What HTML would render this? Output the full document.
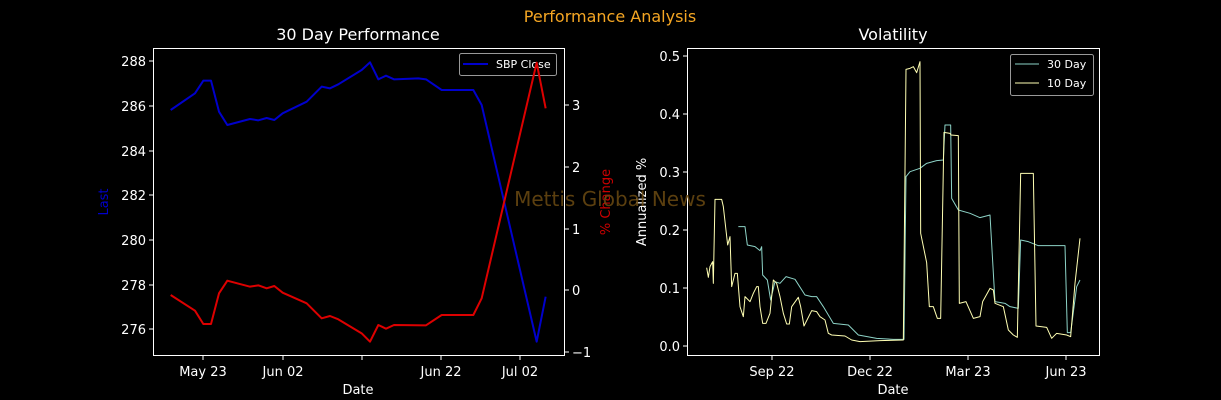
<!DOCTYPE html>
<html><head><meta charset="utf-8"><style>
body{margin:0;background:#000;}
svg{display:block;font-family:"DejaVu Sans","Liberation Sans",sans-serif;}
</style></head><body>
<svg width="1221" height="400" viewBox="0 0 1221 400" xmlns="http://www.w3.org/2000/svg">
<rect width="1221" height="400" fill="#000"/>
<text x="610" y="22" fill="#f5a623" font-size="16" text-anchor="middle">Performance Analysis</text>
<!-- LEFT -->
<text x="358" y="40" fill="#fff" font-size="16" text-anchor="middle">30 Day Performance</text>
<rect x="153.5" y="48.5" width="411" height="307" fill="none" stroke="#fff" stroke-width="1"/>
<g stroke="#fff" stroke-width="1">
<line x1="153" y1="61" x2="149" y2="61"/><line x1="153" y1="106" x2="149" y2="106"/><line x1="153" y1="151" x2="149" y2="151"/><line x1="153" y1="195" x2="149" y2="195"/><line x1="153" y1="240" x2="149" y2="240"/><line x1="153" y1="285" x2="149" y2="285"/><line x1="153" y1="329" x2="149" y2="329"/>
<line x1="565" y1="105" x2="569" y2="105"/><line x1="565" y1="167" x2="569" y2="167"/><line x1="565" y1="229" x2="569" y2="229"/><line x1="565" y1="290" x2="569" y2="290"/><line x1="565" y1="352" x2="569" y2="352"/>
<line x1="203" y1="356" x2="203" y2="360"/><line x1="283" y1="356" x2="283" y2="360"/><line x1="362" y1="356" x2="362" y2="360"/><line x1="441" y1="356" x2="441" y2="360"/><line x1="520" y1="356" x2="520" y2="360"/>
</g>
<g fill="#fff" font-size="13" text-anchor="end">
<text x="146" y="66">288</text><text x="146" y="111">286</text><text x="146" y="156">284</text><text x="146" y="200">282</text><text x="146" y="245">280</text><text x="146" y="290">278</text><text x="146" y="334">276</text>
</g>
<g fill="#fff" font-size="13">
<text x="572" y="110">3</text><text x="572" y="172">2</text><text x="572" y="234">1</text><text x="572" y="295">0</text><text x="572" y="357">−1</text>
</g>
<g fill="#fff" font-size="13" text-anchor="middle">
<text x="203" y="376">May 23</text><text x="283" y="376">Jun 02</text><text x="441" y="376">Jun 22</text><text x="520" y="376">Jul 02</text>
<text x="358" y="394">Date</text>
</g>
<text transform="translate(108,202) rotate(-90)" fill="#0000cc" font-size="13" text-anchor="middle">Last</text>
<text transform="translate(610,202) rotate(-90)" fill="#cc0000" font-size="13" text-anchor="middle">% Change</text>
<g transform="translate(150,40) scale(0.33333)" fill="none" stroke-width="2" stroke-linejoin="round">
<polyline vector-effect="non-scaling-stroke" stroke="#0000cc" points="62,210 135,160 160,122 183,122 207,215 232,255 300,237 325,241 350,234 373,240 398,220 470,185 515,140 540,145 565,133 635,90 660,67 685,118 708,107 732,118 805,115 828,118 875,150 970,150 995,195 1160,905 1187,770"/>
</g>
<rect x="459.5" y="53.5" width="97" height="22" rx="2" fill="#000" fill-opacity="0.8" stroke="#999"/>
<line x1="463" y1="64" x2="488" y2="64" stroke="#0000cc" stroke-width="2"/>
<text x="496" y="68" fill="#fff" font-size="11">SBP Close</text>
<g transform="translate(150,40) scale(0.33333)" fill="none" stroke-width="2" stroke-linejoin="round">
<polyline vector-effect="non-scaling-stroke" stroke="#dd0000" points="62,765 135,812 160,852 183,852 207,760 232,722 300,740 325,736 350,745 373,738 398,758 470,790 515,835 540,828 565,838 635,880 660,905 685,855 708,866 732,855 828,856 875,825 970,825 995,775 1160,68 1187,205"/>
</g>
<!-- RIGHT -->
<text x="893" y="40" fill="#fff" font-size="16" text-anchor="middle">Volatility</text>
<rect x="687.5" y="48.5" width="412" height="307" fill="none" stroke="#fff" stroke-width="1"/>
<g stroke="#fff" stroke-width="1">
<line x1="687" y1="56" x2="683" y2="56"/><line x1="687" y1="114" x2="683" y2="114"/><line x1="687" y1="172" x2="683" y2="172"/><line x1="687" y1="230" x2="683" y2="230"/><line x1="687" y1="288" x2="683" y2="288"/><line x1="687" y1="346" x2="683" y2="346"/>
<line x1="772" y1="356" x2="772" y2="360"/><line x1="870" y1="356" x2="870" y2="360"/><line x1="968" y1="356" x2="968" y2="360"/><line x1="1066" y1="356" x2="1066" y2="360"/>
</g>
<g fill="#fff" font-size="13" text-anchor="end">
<text x="680" y="61">0.5</text><text x="680" y="119">0.4</text><text x="680" y="177">0.3</text><text x="680" y="235">0.2</text><text x="680" y="293">0.1</text><text x="680" y="351">0.0</text>
</g>
<g fill="#fff" font-size="13" text-anchor="middle">
<text x="772" y="376">Sep 22</text><text x="870" y="376">Dec 22</text><text x="968" y="376">Mar 23</text><text x="1066" y="376">Jun 23</text>
<text x="893" y="394">Date</text>
</g>
<text transform="translate(646,202) rotate(-90)" fill="#fff" font-size="13" text-anchor="middle">Annualized %</text>
<g transform="translate(680,40) scale(0.33333)" fill="none" stroke-width="1" stroke-linejoin="round">
<polyline vector-effect="non-scaling-stroke" stroke="#8dd3c7" points="175,560 195,560 202,615 225,620 240,632 245,620 248,705 262,720 272,780 285,725 300,730 318,710 345,718 375,765 395,770 410,770 430,800 460,850 505,855 535,885 590,895 640,898 672,898 678,410 690,395 720,385 740,370 770,362 790,360 795,255 812,255 815,475 835,510 870,520 900,533 930,525 945,785 975,790 990,800 1015,805 1022,600 1045,605 1075,617 1155,617 1162,878 1172,878 1190,740 1200,720"/>
<polyline vector-effect="non-scaling-stroke" stroke="#ffffb3" points="80,683 85,712 90,680 98,665 100,730 105,478 125,478 130,500 143,615 150,590 155,740 165,700 172,700 180,800 190,830 195,770 210,785 220,760 230,740 235,740 240,800 248,850 258,850 270,820 280,720 290,730 300,770 310,820 320,852 328,852 335,800 355,772 362,800 372,858 395,812 410,815 420,830 435,840 445,880 455,885 495,888 515,900 540,905 600,902 670,900 678,88 690,85 700,80 710,98 720,65 722,580 740,668 748,800 760,800 772,835 782,835 792,277 810,280 813,285 835,287 838,790 858,785 880,835 900,830 908,785 930,745 940,750 945,790 970,800 985,870 1000,885 1012,892 1022,400 1060,400 1068,858 1100,862 1115,895 1130,880 1160,885 1172,890 1185,730 1200,595"/>
</g>
<rect x="1010.5" y="54.5" width="83" height="41" rx="2" fill="#000" fill-opacity="0.8" stroke="#999"/>
<line x1="1015" y1="64" x2="1039" y2="64" stroke="#8dd3c7" stroke-width="1"/>
<text x="1047" y="68" fill="#fff" font-size="11">30 Day</text>
<line x1="1015" y1="83" x2="1039" y2="83" stroke="#ffffb3" stroke-width="1"/>
<text x="1047" y="87" fill="#fff" font-size="11">10 Day</text>
<text x="610" y="206" fill="#6b4a12" fill-opacity="0.85" font-size="20" text-anchor="middle">Mettis Global News</text>
</svg>
</body></html>
